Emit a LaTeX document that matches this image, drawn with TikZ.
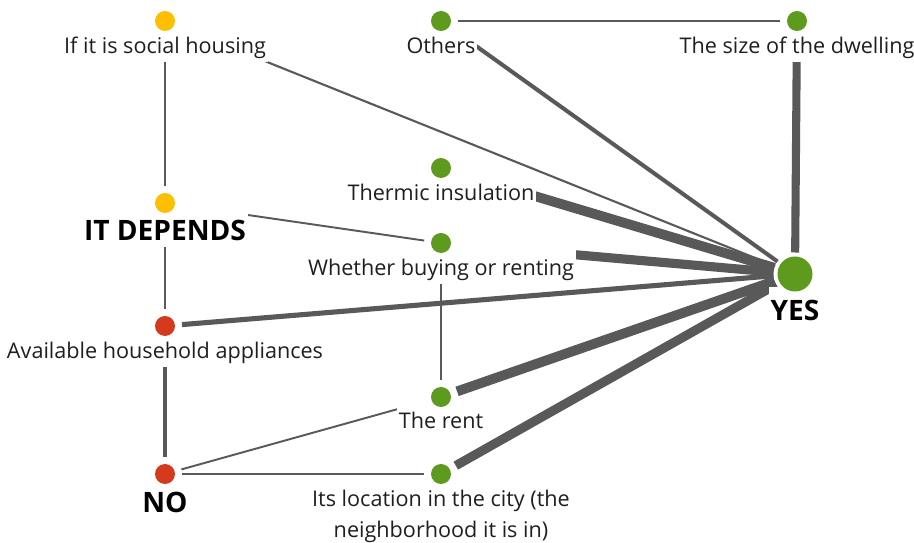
\documentclass[tikz,border=0pt]{standalone}
\usepackage{fontspec}
\setmainfont{Open Sans}
\definecolor{yesgreen}{HTML}{5E9A1E}
\definecolor{nored}{HTML}{D63A1C}
\definecolor{depyellow}{HTML}{FDBF00}
\definecolor{tiegray}{HTML}{595959}
\pgfdeclarelayer{edges}
\pgfdeclarelayer{labels}
\pgfsetlayers{edges,labels,main}

\begin{document}
\begin{tikzpicture}[x = 0.02cm, y = -0.02cm,
                      vertex/.style = {circle, fill = #1, minimum size = 0.4cm, inner sep = 0pt, outer sep = 0.14cm},
                      bigvertex/.style = {circle, fill = yesgreen, minimum size = 0.7cm, inner sep = 0pt, outer sep = 0.08cm},
                      txt/.style = {fill = white, anchor = base, inner sep = 1pt, text height = 0.55cm, text depth = 0.12cm,
                                    text = black!88, font = \fontsize{12.3}{18.2}\selectfont},
                      answer/.style = {fill = white, anchor = base, inner sep = 1pt, text height = 0.64cm, text depth = 0.08cm,
                                       text = black, font = \fontsize{16}{18}\selectfont\bfseries},
                      tie/.style = {draw = tiegray, line width = #1}]
    \useasboundingbox (0, 0) rectangle (914, 543);
    % dots
    \node [vertex = depyellow] (soc) at (165, 21){};
    \node [vertex = depyellow] (dep) at (165, 203){};
    \node [vertex = nored] (app) at (165, 326){};
    \node [vertex = nored] (no) at (165, 474){};
    \node [vertex = yesgreen] (oth) at (441, 21){};
    \node [vertex = yesgreen] (ins) at (441, 168){};
    \node [vertex = yesgreen] (buy) at (441, 243){};
    \node [vertex = yesgreen] (rent) at (441, 397){};
    \node [vertex = yesgreen] (loc) at (441, 474){};
    \node [vertex = yesgreen] (size) at (797, 21){};
    \node [bigvertex] (yes) at (795, 274){};
    % links
    \begin{pgfonlayer}{edges}
    \draw [tie = 1.1pt] (soc) -- (dep);
    \draw [tie = 1.3pt] (dep) -- (app);
    \draw [tie = 2.3pt] (app) -- (no);
    \draw [tie = 1.1pt] (dep) -- (buy);
    \draw [tie = 1.1pt] (buy) -- (rent);
    \draw [tie = 1.1pt] (no) -- (rent);
    \draw [tie = 1.4pt] (no) -- (loc);
    \draw [tie = 1.3pt] (oth) -- (size);
    \draw [tie = 1.2pt] (soc) -- (yes);
    \draw [tie = 2.3pt] (oth) -- (yes);
    \draw [tie = 4.6pt] (size) -- (yes);
    \draw [tie = 5.6pt, shorten <= 0.5cm] (ins) -- (yes);
    \draw [tie = 5.2pt, shorten <= 1cm] (buy) -- (yes);
    \draw [tie = 2.9pt] (app) -- (yes);
    \draw [tie = 5.6pt] (rent) -- (yes);
    \draw [tie = 5.2pt] (loc) -- (yes);
    \end{pgfonlayer}
    % labels
    \begin{pgfonlayer}{labels}
    \node [txt] (soc-l) at (165, 54){If it is social housing};
    \node [answer, text height = 0.76cm] (dep-l) at (165, 241){IT DEPENDS};
    \node [txt] (app-l) at (165, 359){Available household appliances};
    \node [answer] (no-l) at (165, 513){NO};
    \node [txt] (oth-l) at (441, 54){Others};
    \node [txt, text height = 0.56cm] (ins-l) at (441, 201){Thermic insulation};
    \node [txt, text height = 0.62cm] (buy-l) at (441, 276){Whether buying or renting};
    \node [txt] (rent-l) at (441, 429){The rent};
    \node [txt, align = center, text height = 1.16cm] (loc-l) at (441, 538){Its location in the city (the\\neighborhood it is in)};
    \node [txt] (size-l) at (797, 54){The size of the dwelling};
    \node [answer] (yes-l) at (795, 321){YES};
    \end{pgfonlayer}
\end{tikzpicture}
\end{document}
